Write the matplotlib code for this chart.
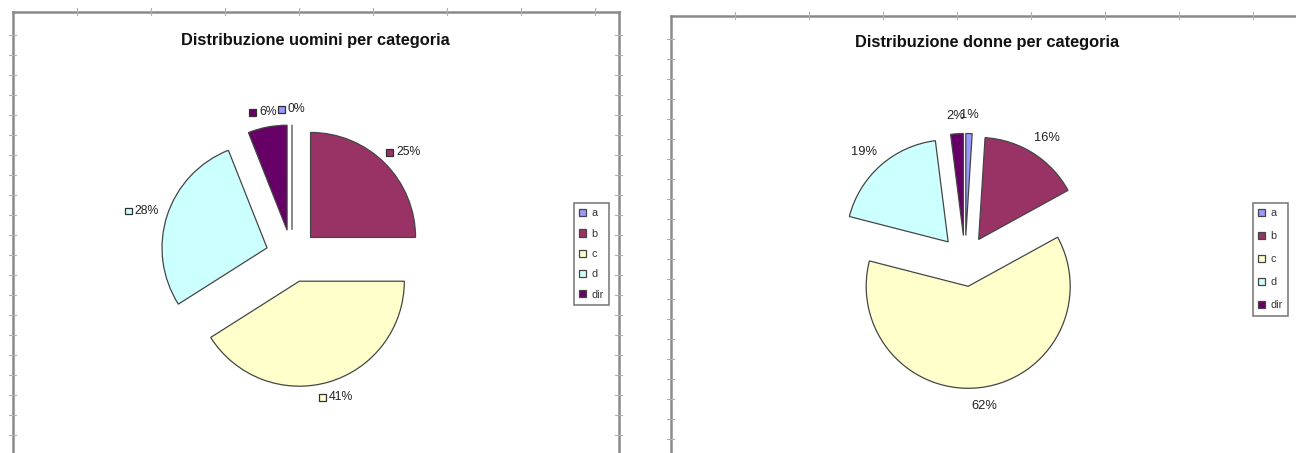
import matplotlib
matplotlib.use("Agg")
import matplotlib.pyplot as plt
import numpy as np
from matplotlib.patches import Rectangle
from matplotlib.lines import Line2D
from matplotlib.offsetbox import HPacker, TextArea, DrawingArea, AnnotationBbox

# ---- data -------------------------------------------------------------
categories = ["a", "b", "c", "d", "dir"]
uomini_pct = [0, 25, 41, 28, 6]
donne_pct = [1, 16, 62, 19, 2]
slice_colors = ["#9999FF", "#993366", "#FFFFCC", "#CCFFFF", "#660066"]
title_uomini = "Distribuzione uomini per categoria"
title_donne = "Distribuzione donne per categoria"

plt.rcParams["font.family"] = ["Liberation Sans", "DejaVu Sans"]

W, H = 1296, 453
fig = plt.figure(figsize=(W / 100, H / 100), dpi=100)
fig.patch.set_facecolor("white")

EDGE = "#454545"
FRAME = "#8a8a8a"
EXPLODE = 0.25


def fig_px(x, y):
    return x / W, 1 - y / H


def panel(values, title, frame, center, radius, title_xy, legend_box, legend_space,
          show_key, label_r, label_size):
    x0, y0, x1, y1 = frame
    cx, cy = center
    ax = fig.add_axes([x0 / W, 1 - y1 / H, (x1 - x0) / W, (y1 - y0) / H])
    wedges, _ = ax.pie(values, colors=slice_colors, startangle=90, counterclock=False,
                       explode=[EXPLODE] * len(values),
                       wedgeprops=dict(edgecolor=EDGE, linewidth=0.9))
    ax.set_aspect("auto")
    ax.set_xlim((x0 - cx) / radius, (x1 - cx) / radius)
    ax.set_ylim(-(y1 - cy) / radius, (cy - y0) / radius)
    ax.set_frame_on(True)
    for side, sp in ax.spines.items():
        sp.set_color(FRAME)
        sp.set_linewidth(1.8)
    ax.spines["bottom"].set_visible(False)
    ax.set_xticks([])
    ax.set_yticks([])

    # percentage labels: anchored outside each slice, box turned towards the pie
    total = float(sum(values))
    for w, v, col in zip(wedges, values, slice_colors):
        mid = np.deg2rad((w.theta1 + w.theta2) / 2)
        c, s = np.cos(mid), np.sin(mid)
        lx, ly = label_r * c, label_r * s
        txt = f"{round(100 * v / total):.0f}%"
        ta = TextArea(txt, textprops=dict(fontsize=label_size, color="#222222"))
        if show_key:
            da = DrawingArea(5.5, 5.5, 0, 0)
            da.add_artist(Rectangle((0, 0), 5, 5, facecolor=col,
                                    edgecolor="#303030", linewidth=0.9))
            box = HPacker(children=[da, ta], align="center", pad=0, sep=1.5)
        else:
            box = ta
        ab = AnnotationBbox(box, (lx, ly), xycoords="data", frameon=False,
                            box_alignment=(0.5 - 0.5 * c, 0.5 - 0.5 * s), pad=0)
        ax.add_artist(ab)

    # title
    tx, ty = fig_px(*title_xy)
    fig.text(tx, ty, title, ha="center", va="center", fontsize=11.8,
             fontweight="bold", color="#111111")

    # legend
    lx0, ly0 = fig_px(*legend_box)
    leg = fig.legend(wedges, categories, loc="upper left",
                     bbox_to_anchor=(lx0, ly0), borderaxespad=0,
                     fontsize=7.8, handlelength=0.65, handleheight=0.65,
                     handletextpad=0.45, labelspacing=legend_space,
                     borderpad=0.5, fancybox=False, frameon=True)
    leg.get_frame().set_edgecolor("#505050")
    leg.get_frame().set_linewidth(1.1)
    for t in leg.get_texts():
        t.set_color("#333333")

    # stubs of the sheet grid poking out of the chart border
    for gx in np.arange(x0 + 64, x1, 74):
        fig.add_artist(Line2D([gx / W, gx / W], [1 - (y0 - 4) / H, 1 - (y0 + 3) / H],
                              color="#b0b0b0", linewidth=0.8))
    for gy in np.arange(y0 + 23, H, 20):
        for ex in (x0, x1):
            fig.add_artist(Line2D([(ex - 4) / W, (ex + 3) / W], [1 - gy / H, 1 - gy / H],
                                  color="#b0b0b0", linewidth=0.8))
    return ax


panel(uomini_pct, title_uomini, frame=(13, 12, 619, 470), center=(292, 256),
      radius=105, title_xy=(315, 40), legend_box=(574, 203), legend_space=0.95,
      show_key=True, label_r=1.34, label_size=8.8)
panel(donne_pct, title_donne, frame=(671, 16, 1330, 470), center=(965, 261),
      radius=102, title_xy=(987, 42), legend_box=(1253, 203), legend_space=1.2,
      show_key=False, label_r=1.37, label_size=9.3)

fig.savefig("out.png", dpi=100, facecolor="white")
